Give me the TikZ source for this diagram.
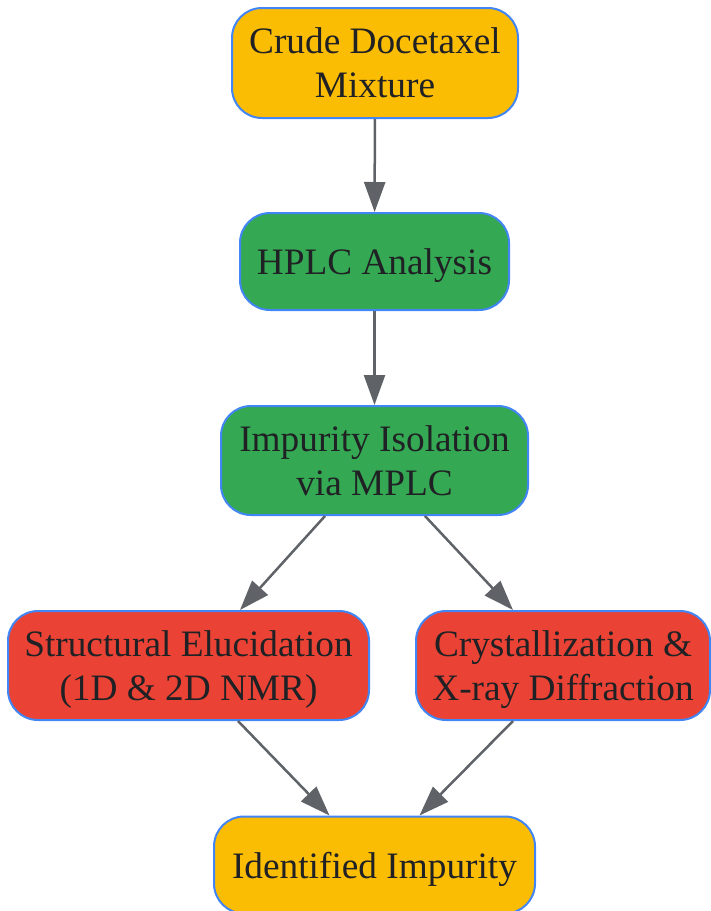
\documentclass[tikz,border=0pt]{standalone}
\usepackage{fontspec}
\setmainfont{Liberation Serif}
\usepackage{xcolor}
\definecolor{gyellow}{HTML}{FBBC04}
\definecolor{ggreen}{HTML}{34A853}
\definecolor{gred}{HTML}{EA4335}
\definecolor{gblue}{HTML}{4285F4}
\definecolor{ggray}{HTML}{5F6368}
\definecolor{gtext}{HTML}{202124}
\usetikzlibrary{arrows.meta}

\begin{document}
\begin{tikzpicture}[x=1pt,y=-1pt,
	box/.style={draw=gblue,line width=2pt,rounded corners=30pt,inner sep=0pt,text depth=0pt,align=center,text=gtext,font=\fontsize{37.3}{44}\selectfont},
	flow/.style={draw=ggray,line width=2.5pt,-{Triangle[length=30pt,width=21pt]}}]
					\useasboundingbox (0,0) rectangle (711,911);
					\node [box,fill=gyellow,minimum width=286pt,minimum height=110pt] (crude) at (375,63) {Crude Docetaxel\\Mixture};
					\node [box,fill=ggreen,minimum width=269pt,minimum height=97pt] (hplc) at (374.5,261.5) {HPLC Analysis};
					\node [box,fill=ggreen,minimum width=307pt,minimum height=109pt] (mplc) at (374.5,460.5) {Impurity Isolation\\via MPLC};
					\node [box,fill=gred,minimum width=361pt,minimum height=109pt] (nmr) at (188.5,665.5) {Structural Elucidation\\(1D \& 2D NMR)};
					\node [box,fill=gred,minimum width=294pt,minimum height=109pt] (xray) at (563,665.5) {Crystallization \&\\X-ray Diffraction};
					\node [box,fill=gyellow,minimum width=321pt,minimum height=97pt] (impurity) at (374.5,865) {Identified Impurity};
					\draw [flow] (crude) -- (hplc);
					\draw [flow] (hplc) -- (mplc);
					\draw [flow] ([xshift=-49.5pt]mplc.south) -- ([xshift=51.5pt]nmr.north);
					\draw [flow] ([xshift=50.5pt]mplc.south) -- ([xshift=-50pt]xray.north);
					\draw [flow] ([xshift=49.5pt]nmr.south) -- ([xshift=-45pt]impurity.north);
					\draw [flow] ([xshift=-50pt]xray.south) -- ([xshift=45pt]impurity.north);
				\end{tikzpicture}
\end{document}
